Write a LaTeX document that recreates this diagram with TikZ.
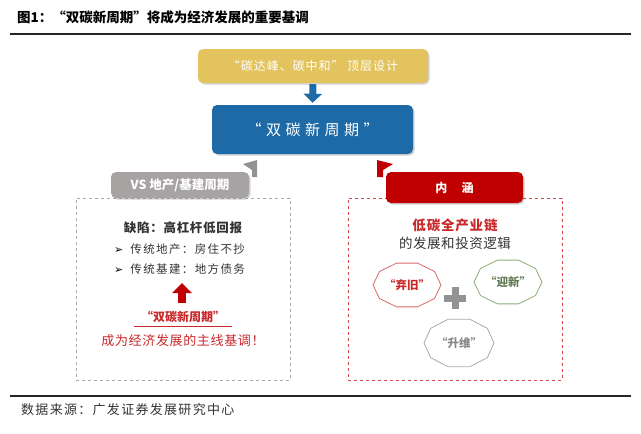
\documentclass[tikz,border=0pt]{standalone}
\usepackage{fontspec}
\setmainfont{Noto Sans CJK SC}
\newfontfamily\dejavu{DejaVu Sans}
\usetikzlibrary{arrows.meta,shadows,calc}
\definecolor{ygold}{HTML}{E3C35E}
\definecolor{mblue}{HTML}{1E6AA6}
\definecolor{gbox}{HTML}{A6A3A2}
\definecolor{rbox}{HTML}{C00000}
\definecolor{dgray}{HTML}{A8A8A8}
\definecolor{dred}{HTML}{D84848}
\definecolor{ored}{HTML}{D86868}
\definecolor{ogreen}{HTML}{8CAE78}
\definecolor{ogray}{HTML}{AAAAAA}
\definecolor{txt}{HTML}{333333}
\definecolor{tred}{HTML}{C8282A}
\newcommand{\fs}[1]{\fontsize{#1}{#1}\selectfont}
\begin{document}
\begin{tikzpicture}[x=1pt,y=-1pt,
  boxstyle/.style={rounded corners=5pt, text=white, inner sep=0pt, drop shadow={shadow xshift=1.5pt, shadow yshift=-1.5pt, opacity=0.35}},
  dashbox/.style={dashed, line width=0.8pt, minimum width=214pt, minimum height=182pt, inner sep=0pt},
  plain/.style={inner sep=0pt, text=txt},
  octotext/.style={inner sep=0pt, font=\fs{11.5}\bfseries}
]
\useasboundingbox (0,0) rectangle (641,434);
% title
\node[plain, anchor=west, text=black, font=\fs{13.5}\bfseries] (title) at (17,17) {图1：“双碳新周期”将成为经济发展的重要基调};
\coordinate (tl) at (10,34); \coordinate (tr) at (631,34);
\draw[line width=1.8pt, black!85] (tl) -- (tr);
% top boxes
\node[boxstyle, fill=ygold, minimum width=230pt, minimum height=34pt, font=\fs{12}] (top) at (313,66) {\addfontfeature{LetterSpace=8}“碳达峰、碳中和” 顶层设计};
\node[boxstyle, fill=mblue, minimum width=201pt, minimum height=49pt, font=\fs{15}] (main) at (312.5,129.5) {\addfontfeature{LetterSpace=30}“双碳新周期”};
\draw[mblue, line width=7pt, -{Triangle[width=18pt,length=9pt]}, shorten <=1pt, shorten >=2pt] (top.south) -- (main.north);
% dashed boxes
\node[dashbox, draw=dgray] (lbox) at (183,289) {};
\node[dashbox, draw=dred] (rbox) at (455,289) {};
% small bent arrows
\fill[gbox!90!black] (243,164) -- (257,160) -- (257,177) -- (252,177) -- (252,170) -- cycle;
\fill[rbox] (393,164) -- (377,160) -- (377,177) -- (383,177) -- (383,170) -- cycle;
% side header boxes
\node[boxstyle, fill=gbox, minimum width=138pt, minimum height=26pt, font=\fs{12.5}\bfseries] (lhead) at (180,185) {VS 地产/基建周期};
\node[boxstyle, fill=rbox, minimum width=137pt, minimum height=31pt, font=\fs{12}\bfseries] (rhead) at (454.5,187.5) {内\hspace{1.2em}涵};
% left contents
\node[plain, font=\fs{12.5}\bfseries] (defect) at (183,228) {\addfontfeature{LetterSpace=6}缺陷：高杠杆低回报};
\node[plain, anchor=west, font=\fs{11.5}] (b1) at (114,249) {{\dejavu\fs{11}\textcolor{black}{➢}}\hspace{7pt}\addfontfeature{LetterSpace=12}传统地产：房住不抄};
\node[plain, anchor=west, font=\fs{11.5}] (b2) at (114,269) {{\dejavu\fs{11}\textcolor{black}{➢}}\hspace{7pt}\addfontfeature{LetterSpace=12}传统基建：地方债务};
\coordinate (ua) at (182,303); \coordinate (ub) at (182,283);
\draw[rbox, line width=8pt, -{Triangle[width=19pt,length=10pt]}] (ua) -- (ub);
\node[plain, text=tred, font=\fs{12}\bfseries] (rn) at (183,317) {“双碳新周期”};
\coordinate (ul) at (134,326.5); \coordinate (ur) at (232,326.5);
\draw[tred, line width=0.9pt] (ul) -- (ur);
\node[plain, text=tred, font=\fs{13}] (rline) at (183,341) {\addfontfeature{LetterSpace=5}成为经济发展的主线基调！};
% right contents
\node[plain, text=tred, font=\fs{13.5}\bfseries] (chain) at (455,225) {\addfontfeature{LetterSpace=6}低碳全产业链};
\node[plain, font=\fs{13.5}] (logic) at (455,243) {\addfontfeature{LetterSpace=4}的发展和投资逻辑};
% octagons
\node[octotext, text=tred] (o1) at (407,285) {“弃旧”};
\node[octotext, text=ogreen!70!black] (o2) at (508,282) {“迎新”};
\node[octotext, text=ogray!80!black] (o3) at (459,343) {“升维”};
\draw[ored, line width=0.8pt] ([shift={(0:34 and 23)}]o1.center) \foreach \t in {36,72,...,324}{ -- ([shift={(\t:34 and 23)}]o1.center)} -- cycle;
\draw[ogreen, line width=0.8pt] ([shift={(0:34 and 23)}]o2.center) \foreach \t in {36,72,...,324}{ -- ([shift={(\t:34 and 23)}]o2.center)} -- cycle;
\draw[ogray, line width=0.8pt] ([shift={(0:35 and 25)}]o3.center) \foreach \t in {36,72,...,324}{ -- ([shift={(\t:35 and 25)}]o3.center)} -- cycle;
% plus
\coordinate (pc) at (455,298);
\fill[gray!85] ($(pc)+(-11,-3.5)$) rectangle ($(pc)+(11,3.5)$);
\fill[gray!85] ($(pc)+(-3.5,-11)$) rectangle ($(pc)+(3.5,11)$);
% bottom
\coordinate (bl) at (10,396); \coordinate (br) at (631,396);
\draw[line width=1.8pt, black!85] (bl) -- (br);
\node[plain, anchor=west, text=txt, font=\fs{13}] (src) at (21,410) {\addfontfeature{LetterSpace=10}数据来源：广发证券发展研究中心};
\end{tikzpicture}
\end{document}
